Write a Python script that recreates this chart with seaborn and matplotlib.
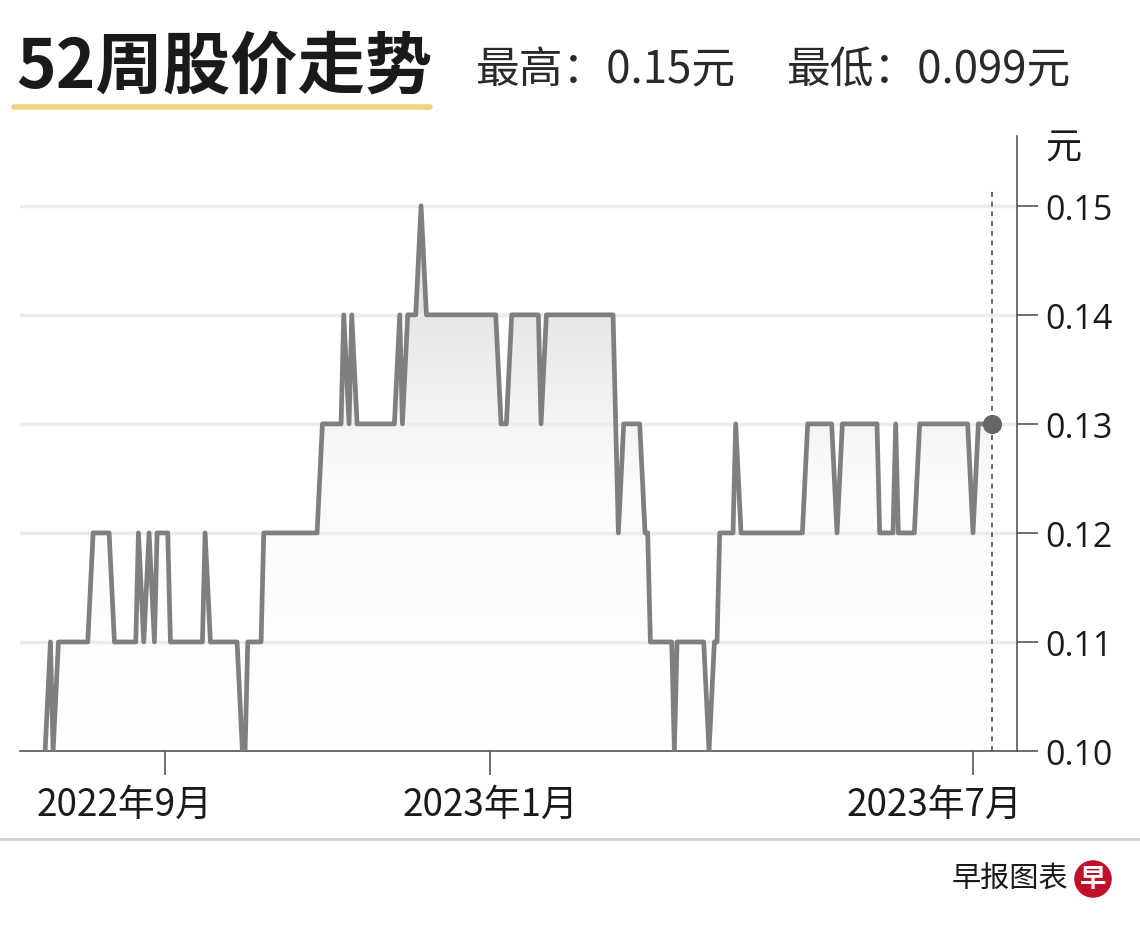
import numpy as np
import pandas as pd
import seaborn as sns
import matplotlib.pyplot as plt
import matplotlib.dates as mdates
from matplotlib.lines import Line2D
from matplotlib.colors import LinearSegmentedColormap
from matplotlib.transforms import ScaledTranslation

# price path (turning points)
dates = ["2022-07-18", "2022-07-20", "2022-07-21", "2022-07-23", "2022-08-03",
         "2022-08-05", "2022-08-11", "2022-08-13", "2022-08-21", "2022-08-22",
         "2022-08-24", "2022-08-26", "2022-08-28", "2022-08-29", "2022-09-02",
         "2022-09-03", "2022-09-15", "2022-09-16", "2022-09-18", "2022-09-28",
         "2022-09-30", "2022-10-01", "2022-10-02", "2022-10-07", "2022-10-08",
         "2022-10-28", "2022-10-30", "2022-11-06", "2022-11-07", "2022-11-09",
         "2022-11-10", "2022-11-12", "2022-11-26", "2022-11-28", "2022-11-29",
         "2022-12-01", "2022-12-04", "2022-12-06", "2022-12-08", "2023-01-03",
         "2023-01-05", "2023-01-07", "2023-01-09", "2023-01-19", "2023-01-20",
         "2023-01-22", "2023-02-16", "2023-02-18", "2023-02-20", "2023-02-26",
         "2023-02-28", "2023-03-01", "2023-03-02", "2023-03-10", "2023-03-11",
         "2023-03-12", "2023-03-22", "2023-03-24", "2023-03-26", "2023-03-27",
         "2023-03-28", "2023-04-02", "2023-04-03", "2023-04-05", "2023-04-28",
         "2023-04-30", "2023-05-09", "2023-05-11", "2023-05-13", "2023-05-26",
         "2023-05-27", "2023-06-01", "2023-06-02", "2023-06-03", "2023-06-09",
         "2023-06-11", "2023-06-29", "2023-07-01", "2023-07-03", "2023-07-08"]
prices = [0.10, 0.11, 0.10, 0.11, 0.11,
          0.12, 0.12, 0.11, 0.11, 0.12,
          0.11, 0.12, 0.11, 0.12, 0.12,
          0.11, 0.11, 0.12, 0.11, 0.11,
          0.10, 0.10, 0.11, 0.11, 0.12,
          0.12, 0.13, 0.13, 0.14, 0.13,
          0.14, 0.13, 0.13, 0.14, 0.13,
          0.14, 0.14, 0.15, 0.14, 0.14,
          0.13, 0.13, 0.14, 0.14, 0.13,
          0.14, 0.14, 0.12, 0.13, 0.13,
          0.12, 0.12, 0.11, 0.11, 0.10,
          0.11, 0.11, 0.10, 0.11, 0.11,
          0.12, 0.12, 0.13, 0.12, 0.12,
          0.13, 0.13, 0.12, 0.13, 0.13,
          0.12, 0.12, 0.13, 0.12, 0.12,
          0.13, 0.13, 0.12, 0.13, 0.13]

ytick_vals = [0.10, 0.11, 0.12, 0.13, 0.14, 0.15]
ytick_labels = ["0.10", "0.11", "0.12", "0.13", "0.14", "0.15"]
xtick_dates = ["2022-09-01", "2023-01-01", "2023-07-01"]
xtick_labels = ["2022年9月", "2023年1月", "2023年7月"]
title = "52周股价走势"
high_txt = "最高：0.15元"
low_txt = "最低：0.099元"
unit = "元"
source = "早报图表"

df = pd.DataFrame({"date": pd.to_datetime(dates), "price": prices})

sns.set_style("white")
plt.rcParams['font.family'] = ['Noto Sans CJK SC', 'DejaVu Sans']

W, H = 1140, 928
fig = plt.figure(figsize=(W / 100, H / 100), dpi=100)
ax = fig.add_axes([20 / W, 1 - 752 / H, (1017 - 20) / W, (752 - 137) / H])

sns.lineplot(data=df, x="date", y="price", color="#7f7f7f", lw=3.4, ax=ax, zorder=3)

x0 = mdates.date2num(pd.Timestamp("2022-07-08 14:00"))
x1 = mdates.date2num(pd.Timestamp("2023-07-17 12:00"))
ymin, ymax = 0.10, 0.1564

# gradient fill under the line
xn = mdates.date2num(df["date"])
poly = ax.fill_between(xn, df["price"], 0.10, color="none", lw=0)
cmap = LinearSegmentedColormap.from_list("g", ["#ffffff", "#fbfbfb", "#dadada"])
grad = np.linspace(0, 1, 256).reshape(-1, 1)
im = ax.imshow(grad, extent=[x0, x1, 0.10, 0.15], origin="lower", aspect="auto",
               cmap=cmap, zorder=1)
im.set_clip_path(poly.get_paths()[0], transform=ax.transData)

# last value marker + dashed line
last = df.iloc[-1]
ax.axvline(last["date"], ymin=0, ymax=(752 - 190) / (752 - 137), color="#666666",
           lw=1.4, ls=(0, (2.5, 2.5)), zorder=2)
ax.scatter([last["date"]], [last["price"]], s=190, color="#666666", zorder=4, lw=0)

ax.set_xlim(x0, x1)
ax.set_ylim(ymin, ymax)
ax.set_xlabel("")
ax.set_ylabel("")

ax.set_axisbelow("line")
ax.yaxis.grid(True, color="#ececec", lw=2.5)
ax.xaxis.grid(False)

ax.yaxis.tick_right()
ax.set_yticks(ytick_vals)
ax.set_yticklabels(ytick_labels)
ax.set_xticks(mdates.date2num(pd.to_datetime(xtick_dates)))
ax.set_xticklabels(xtick_labels)

for s in ["top", "left"]:
    ax.spines[s].set_visible(False)
for s in ["right", "bottom"]:
    ax.spines[s].set_color("#555555")
    ax.spines[s].set_linewidth(1.2)

ax.tick_params(axis="y", right=True, left=False, direction="out", length=15,
               width=1.2, color="#555555", pad=5, labelsize=24.5, labelcolor="#1a1a1a")
ax.tick_params(axis="x", bottom=True, direction="out", length=17, width=1.2,
               color="#555555", pad=7, labelsize=26.5, labelcolor="#1a1a1a")
for lbl in ax.get_yticklabels():
    lbl.set_fontfamily(["Open Sans", "DejaVu Sans"])

xl = ax.get_xticklabels()
xl[0].set_transform(xl[0].get_transform() + ScaledTranslation(-0.41, 0, fig.dpi_scale_trans))
xl[2].set_transform(xl[2].get_transform() + ScaledTranslation(-0.39, 0, fig.dpi_scale_trans))

# header
fig.text(16 / W, 1 - 68 / H, title, fontsize=48.5, fontweight="bold", color="#1a1a1a",
         ha="left", va="center")
fig.text(476 / W, 1 - 70 / H, high_txt, fontsize=31.5, fontweight="light",
         color="#2a2a2a", ha="left", va="center")
fig.text(787 / W, 1 - 70 / H, low_txt, fontsize=31.5, fontweight="light",
         color="#2a2a2a", ha="left", va="center")
fig.add_artist(Line2D([14 / W, 430 / W], [1 - 108 / H, 1 - 108 / H],
                      color="#f1d27e", lw=4, transform=fig.transFigure))

fig.text(1045 / W, 1 - 148 / H, unit, fontsize=26, color="#1a1a1a",
         ha="left", va="center")

# footer
fig.add_artist(Line2D([0, 1], [1 - 840 / H, 1 - 840 / H], color="#cfcfcf", lw=2,
                      transform=fig.transFigure))
fig.text(1068 / W, 1 - 880 / H, source, fontsize=21, color="#1a1a1a",
         ha="right", va="center")
fig.text(1093 / W, 1 - 880 / H, "早", fontsize=19, fontweight="bold", color="white",
         ha="center", va="center",
         bbox=dict(boxstyle="circle,pad=0.2", fc="#c0102a", ec="none"))

fig.savefig("out.png", dpi=100)
